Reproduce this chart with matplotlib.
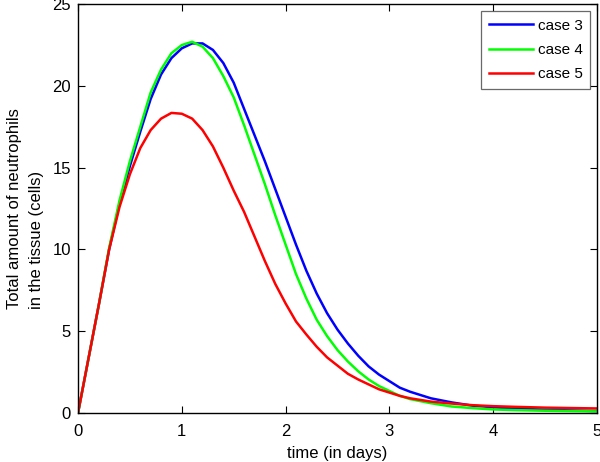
import matplotlib
matplotlib.use("Agg")
import matplotlib.pyplot as plt

plt.rcParams['font.family'] = ['Liberation Sans', 'DejaVu Sans']

# time in days
t = [0, 0.1, 0.2, 0.3, 0.4, 0.5, 0.6, 0.7, 0.8, 0.9, 1.0, 1.1, 1.2, 1.3, 1.4,
     1.5, 1.6, 1.7, 1.8, 1.9, 2.0, 2.1, 2.2, 2.3, 2.4, 2.5, 2.6, 2.7, 2.8,
     2.9, 3.0, 3.1, 3.2, 3.4, 3.6, 3.8, 4.0, 4.2, 4.5, 5.0]

case3 = [0, 3.3, 6.6, 10.0, 12.8, 15.1, 17.2, 19.2, 20.7, 21.7, 22.3, 22.6,
         22.6, 22.2, 21.4, 20.2, 18.6, 17.0, 15.4, 13.7, 12.0, 10.3, 8.7, 7.3,
         6.1, 5.1, 4.25, 3.5, 2.85, 2.35, 1.95, 1.55, 1.3, 0.9, 0.65, 0.45,
         0.35, 0.28, 0.2, 0.12]

case4 = [0, 3.3, 6.6, 10.1, 13.0, 15.4, 17.5, 19.6, 21.0, 22.0, 22.5, 22.7,
         22.4, 21.7, 20.6, 19.3, 17.6, 15.8, 14.0, 12.1, 10.3, 8.5, 7.0, 5.7,
         4.7, 3.85, 3.15, 2.55, 2.05, 1.65, 1.35, 1.05, 0.85, 0.6, 0.4, 0.3,
         0.22, 0.18, 0.14, 0.1]

case5 = [0, 3.3, 6.6, 10.0, 12.6, 14.6, 16.2, 17.3, 18.0, 18.35, 18.3, 18.0,
         17.3, 16.3, 15.0, 13.6, 12.3, 10.8, 9.3, 7.9, 6.7, 5.6, 4.8, 4.05,
         3.4, 2.9, 2.4, 2.05, 1.75, 1.45, 1.25, 1.05, 0.9, 0.7, 0.58, 0.48,
         0.42, 0.38, 0.33, 0.28]

fig = plt.figure(figsize=(6, 4.62), dpi=100)
ax = fig.add_axes([0.13, 0.106, 0.865, 0.885])

ax.plot(t, case3, color=(0, 0, 1), lw=1.8, label='case 3')
ax.plot(t, case4, color=(0, 1, 0), lw=1.8, label='case 4')
ax.plot(t, case5, color=(1, 0, 0), lw=1.8, label='case 5')

ax.set_xlim(0, 5)
ax.set_ylim(0, 25)
ax.set_xticks([0, 1, 2, 3, 4, 5])
ax.set_yticks([0, 5, 10, 15, 20, 25])
ax.tick_params(direction='in', top=True, right=True, length=5, labelsize=12)
ax.tick_params(axis='x', pad=8)
ax.tick_params(axis='y', pad=5)
for s in ax.spines.values():
    s.set_linewidth(1.0)

ax.set_xlabel('time (in days)', fontsize=12, labelpad=5)
ax.set_ylabel('Total amount of neutrophils\nin the tissue (cells)', fontsize=12,
              multialignment='left', linespacing=1.55)
ax.yaxis.set_label_coords(-0.066, 0.5)

leg = ax.legend(loc='upper right', fancybox=False, edgecolor='#444444',
                fontsize=11, handlelength=2.9, handletextpad=0.3,
                borderaxespad=0.45, labelspacing=0.68, borderpad=0.5)
leg.get_frame().set_linewidth(0.9)

fig.savefig('out.png', dpi=100)
